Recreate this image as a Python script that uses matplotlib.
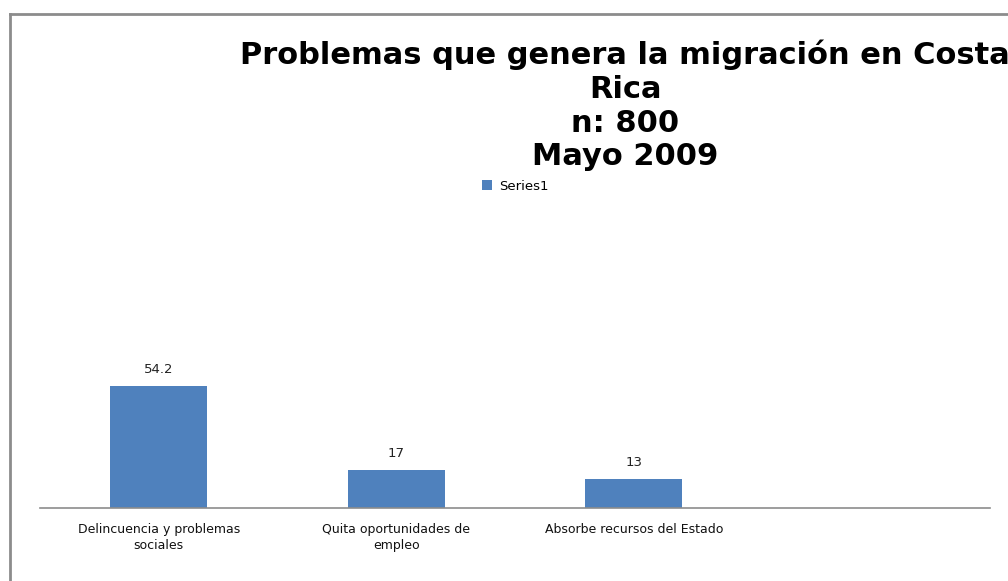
import matplotlib.pyplot as plt
from matplotlib.lines import Line2D

# =========================
# DATA
# =========================
categories = ["Delincuencia y problemas\nsociales",
              "Quita oportunidades de\nempleo",
              "Absorbe recursos del Estado",
              ""]
values = [54.2, 17, 13, None]
series_name = "Series1"
title = "Problemas que genera la migración en Costa\nRica\nn: 800\nMayo 2009"

BAR_COLOR = "#4F81BD"

# =========================
# FIGURE
# =========================
fig = plt.figure(figsize=(10.08, 5.81), dpi=100)
W, H = 1008, 581

# axes placed in pixel terms: baseline at y=508, x from 40 to 990
left, right = 40, 990
bottom, top = 508, 200
ax = fig.add_axes([left / W, 1 - bottom / H, (right - left) / W, (bottom - top) / H])

xs = list(range(len(categories)))
plot_x = [x for x, v in zip(xs, values) if v is not None]
plot_v = [v for v in values if v is not None]
bars = ax.bar(plot_x, plot_v, width=0.41, color=BAR_COLOR, label=series_name)

for b, v in zip(bars, plot_v):
    ax.text(b.get_x() + b.get_width() / 2, v + 4.5, f"{v:g}",
            ha="center", va="bottom", fontsize=9.5, color="#222222")

ax.set_xlim(-0.5, len(categories) - 0.5)
ax.set_ylim(0, (bottom - top) / 2.25)
ax.set_yticks([])
ax.set_xticks(xs)
ax.set_xticklabels(categories, fontsize=9, color="#111111", linespacing=1.25)
ax.tick_params(axis="x", length=0, pad=11)
for s in ["top", "right", "left"]:
    ax.spines[s].set_visible(False)
ax.spines["bottom"].set_color("#8c8c8c")
ax.spines["bottom"].set_linewidth(1.2)

# title
fig.text(625 / W, 1 - 40 / H, title, ha="center", va="top",
         fontsize=22, fontweight="bold", linespacing=1.2)

# legend
fig.legend(handles=[bars], labels=[series_name], loc="center left",
           bbox_to_anchor=(470 / W, 1 - 186 / H), frameon=False,
           fontsize=9.5, handlelength=0.8, handleheight=0.8, handletextpad=0.5)

# outer frame (left and top edges visible)
fig.add_artist(Line2D([10 / W, 10 / W], [0, 1 - 14 / H], transform=fig.transFigure,
                      color="#8c8c8c", linewidth=2))
fig.add_artist(Line2D([10 / W, 1], [1 - 14 / H, 1 - 14 / H], transform=fig.transFigure,
                      color="#8c8c8c", linewidth=2))

fig.savefig("out.png", dpi=100)
